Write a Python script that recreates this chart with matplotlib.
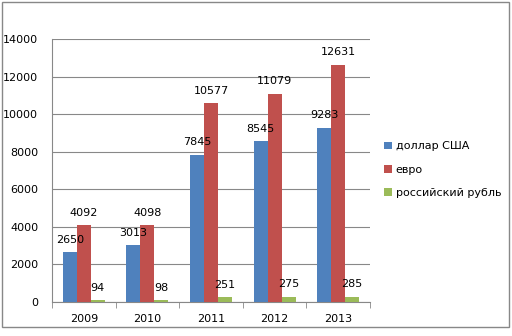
import matplotlib
matplotlib.use("Agg")
import matplotlib.pyplot as plt
import numpy as np
from matplotlib.patches import Rectangle

years = ["2009", "2010", "2011", "2012", "2013"]
usd = [2650, 3013, 7845, 8545, 9283]
eur = [4092, 4098, 10577, 11079, 12631]
rub = [94, 98, 251, 275, 285]
series_names = ["доллар США", "евро", "российский рубль"]
colors = ["#4F81BD", "#C0504D", "#9BBB59"]

fig = plt.figure(figsize=(5.12, 3.36), dpi=100)
fig.patches.append(Rectangle((2/512, 1 - 327/336), 507/512, 325/336, transform=fig.transFigure,
                             fill=False, edgecolor="#888888", linewidth=1.0))
ax = fig.add_axes([52/512, 34/336, 318/512, 263/336])

x = np.arange(len(years))
w = 0.22
for i, (vals, c) in enumerate(zip([usd, eur, rub], colors)):
    pos = x + (i - 1) * w
    ax.bar(pos, vals, width=w, color=c, label=series_names[i], zorder=3)
    for p, v in zip(pos, vals):
        ax.annotate(str(v), (p, v), xytext=(0, 9), textcoords="offset points",
                    ha="center", va="center", fontsize=8, color="black", zorder=4)

ax.set_xlim(-0.5, len(years) - 0.5)
ax.set_ylim(0, 14000)
ax.set_yticks(np.arange(0, 14001, 2000))
ax.tick_params(axis="y", length=0, labelsize=8, pad=10)
ax.set_xticks(x)
ax.set_xticklabels(years)
ax.set_xticks(np.arange(-0.5, len(years), 1), minor=True)
ax.tick_params(axis="x", which="major", length=0, labelsize=8, pad=9)
ax.tick_params(axis="x", which="minor", length=4, color="#888888")
ax.grid(axis="y", color="#888888", linewidth=0.8, zorder=0)
for s in ["top", "right"]:
    ax.spines[s].set_visible(False)
ax.spines["left"].set_color("#888888")
ax.spines["bottom"].set_color("#888888")

leg = fig.legend(loc="upper left", bbox_to_anchor=(380/512, 1 - 137/336), frameon=False,
                 fontsize=8, handlelength=0.7, handleheight=0.7, handletextpad=0.3,
                 labelspacing=1.2, borderaxespad=0)

fig.savefig("out.png", dpi=100)
